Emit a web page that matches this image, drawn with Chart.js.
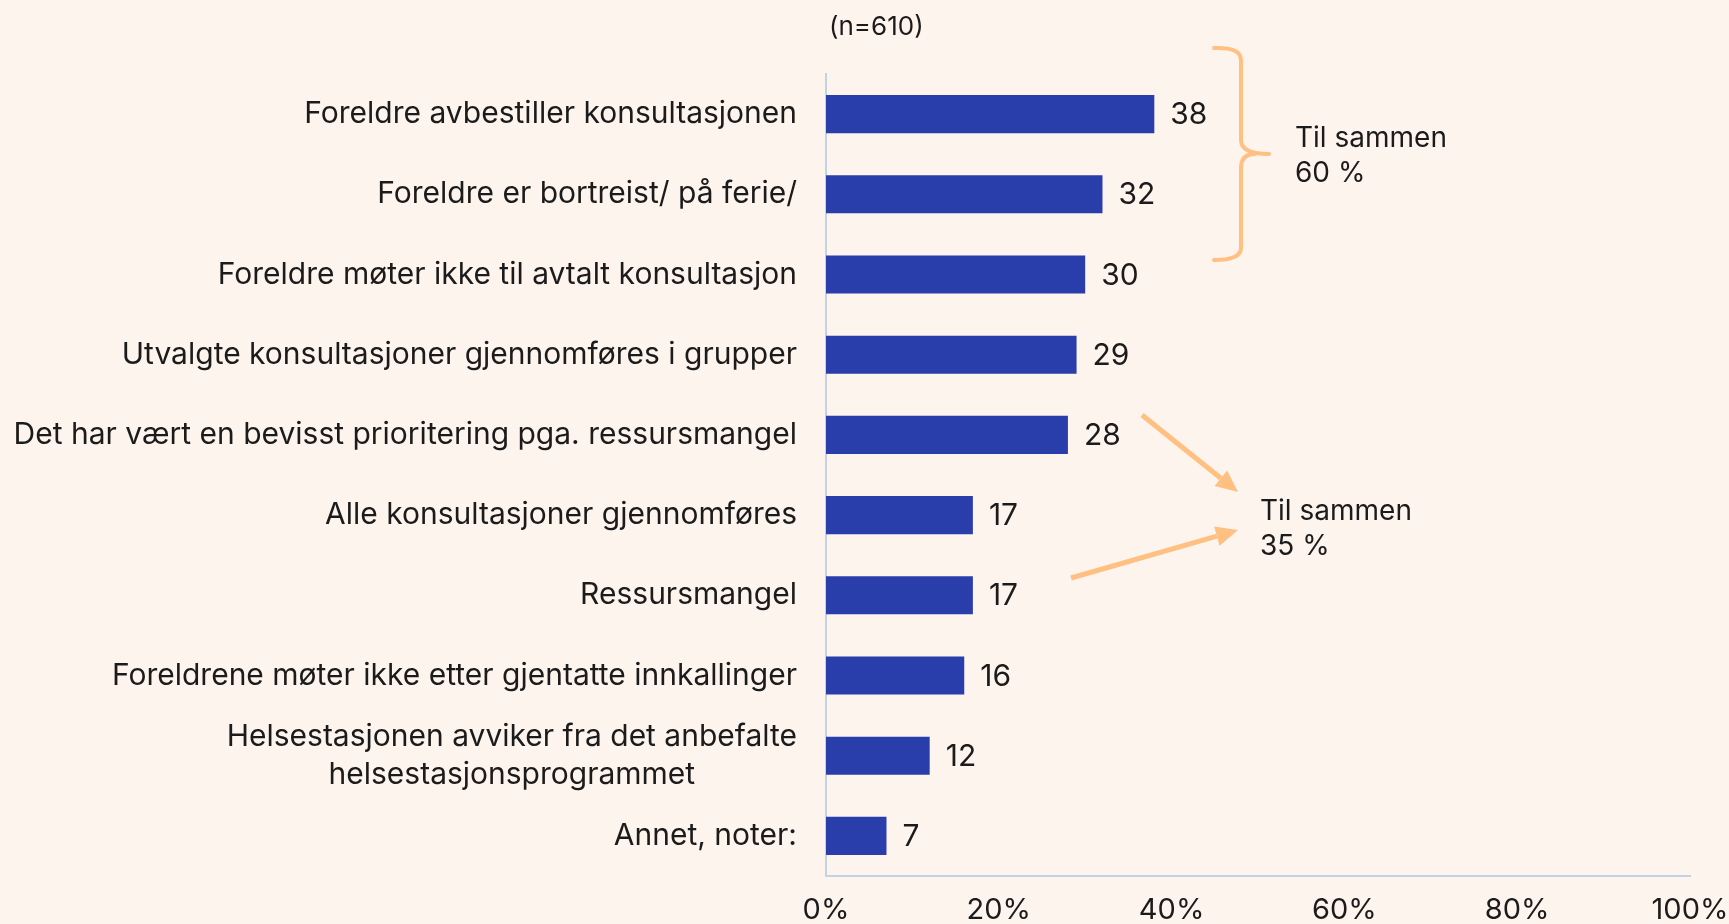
<!DOCTYPE html>
<html>
<head>
<meta charset="utf-8">
<script src="https://cdn.jsdelivr.net/npm/chart.js@4.4.1/dist/chart.umd.min.js"></script>
<style>
  html, body { margin: 0; padding: 0; background: #fdf4ee; }
  #wrap { width: 1729px; height: 924px; }
</style>
</head>
<body>
<div id="wrap"><canvas id="barChart" width="1729" height="924"></canvas></div>
<script>
const categories = [
    'Foreldre avbestiller konsultasjonen',
    'Foreldre er bortreist/ på ferie/',
    'Foreldre møter ikke til avtalt konsultasjon',
    'Utvalgte konsultasjoner gjennomføres i grupper',
    'Det har vært en bevisst prioritering pga. ressursmangel',
    'Alle konsultasjoner gjennomføres',
    'Ressursmangel',
    'Foreldrene møter ikke etter gjentatte innkallinger',
    ['Helsestasjonen avviker fra det anbefalte', 'helsestasjonsprogrammet'],
    'Annet, noter:'
];
const values = [38, 32, 30, 29, 28, 17, 17, 16, 12, 7];
const xTicks = [0, 20, 40, 60, 80, 100];
const sampleNote = '(n=610)';
const groupNotes = [['Til sammen', '60 %'], ['Til sammen', '35 %']];

const FONT = 'Inter, "Noto Sans", sans-serif';
const TEXT = '#1b1b1b';
const ORANGE = '#ffc081';

// egne etiketter, verdier og markeringer
const overlay = {
    id: 'overlay',
    afterDraw(chart) {
        const c = chart.ctx;
        const y = chart.scales.y;
        const area = chart.chartArea;
        c.save();
        c.fillStyle = TEXT;
        c.font = '30px ' + FONT;
        c.textBaseline = 'middle';

        // kategorietiketter
        const labelRight = area.left - 29;
        categories.forEach((lab, i) => {
            const cy = y.getPixelForValue(i);
            if (Array.isArray(lab)) {
                const w = Math.max(...lab.map(l => c.measureText(l).width));
                const cx = labelRight - w / 2;
                c.textAlign = 'center';
                lab.forEach((l, k) => {
                    c.fillText(l, cx, cy + (k - (lab.length - 1) / 2) * 38);
                });
            } else {
                c.textAlign = 'right';
                c.fillText(lab, labelRight, cy);
            }
        });

        // verdier ved stolpene
        c.textAlign = 'left';
        const meta = chart.getDatasetMeta(0);
        meta.data.forEach((bar, i) => {
            c.fillText(String(values[i]), bar.x + 16, bar.y + 1);
        });

        // (n=610)
        c.font = '26px ' + FONT;
        c.fillText(sampleNote, area.left + 3, 27);

        // krøllparentes
        c.strokeStyle = ORANGE;
        c.lineWidth = 4;
        c.lineCap = 'round';
        c.lineJoin = 'round';
        c.beginPath();
        c.moveTo(1214, 48);
        c.quadraticCurveTo(1241, 47, 1241, 60);
        c.lineTo(1241, 140);
        c.quadraticCurveTo(1241, 154, 1269, 154);
        c.moveTo(1241, 168);
        c.quadraticCurveTo(1241, 154, 1255, 154);
        c.moveTo(1241, 168);
        c.lineTo(1241, 248);
        c.quadraticCurveTo(1241, 260, 1214, 260);
        c.stroke();

        // piler
        const arrow = (x1, y1, x2, y2) => {
            const a = Math.atan2(y2 - y1, x2 - x1);
            const len = 22, half = 10;
            const bx = x2 - len * Math.cos(a), by = y2 - len * Math.sin(a);
            c.lineWidth = 5;
            c.lineCap = 'butt';
            c.beginPath();
            c.moveTo(x1, y1);
            c.lineTo(bx, by);
            c.stroke();
            c.fillStyle = ORANGE;
            c.beginPath();
            c.moveTo(x2, y2);
            c.lineTo(bx + half * Math.sin(a), by - half * Math.cos(a));
            c.lineTo(bx - half * Math.sin(a), by + half * Math.cos(a));
            c.closePath();
            c.fill();
        };
        arrow(1142, 415, 1238, 492);
        arrow(1071, 578, 1238, 530);

        // tekst til markeringene
        c.fillStyle = TEXT;
        c.font = '28px ' + FONT;
        c.textBaseline = 'alphabetic';
        c.fillText(groupNotes[0][0], 1295, 147);
        c.fillText(groupNotes[0][1], 1295, 182);
        c.fillText(groupNotes[1][0], 1260, 520);
        c.fillText(groupNotes[1][1], 1260, 555);
        c.restore();
    }
};

new Chart(document.getElementById('barChart').getContext('2d'), {
    type: 'bar',
    data: {
        labels: categories,
        datasets: [{
            data: values,
            backgroundColor: '#293dab',
            barPercentage: 0.475,
            categoryPercentage: 1
        }]
    },
    options: {
        indexAxis: 'y',
        responsive: false,
        animation: false,
        layout: { padding: { left: 0, right: 39, top: 74, bottom: 0 } },
        plugins: { legend: { display: false }, tooltip: { enabled: false } },
        scales: {
            x: {
                min: 0,
                max: 100,
                afterBuildTicks: (s) => { s.ticks = xTicks.map(v => ({ value: v })); },
                afterFit: (s) => {
                    s.height = 48;
                    s.paddingLeft = 0;
                    s.paddingRight = 0;
                },
                grid: { display: false, drawTicks: false },
                border: { display: true, color: '#c4d3e4', width: 2 },
                ticks: {
                    padding: 17,
                    color: TEXT,
                    font: { family: FONT, size: 29 },
                    callback: (v) => v + '%',
                    maxRotation: 0
                }
            },
            y: {
                afterFit: (s) => { s.width = 826; },
                grid: { display: false, drawTicks: false },
                border: { display: true, color: '#c4d3e4', width: 2 },
                ticks: { display: false }
            }
        }
    },
    plugins: [overlay]
});
</script>
</body>
</html>
